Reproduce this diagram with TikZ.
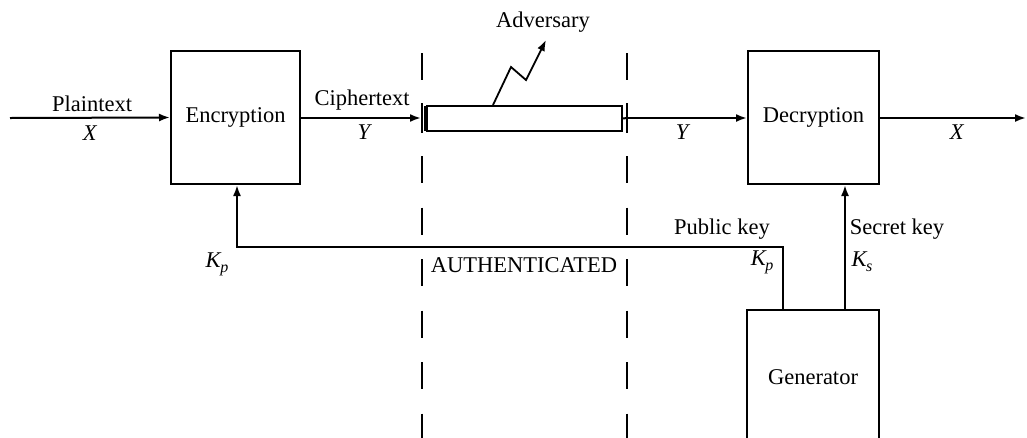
\documentclass[tikz,border=0pt]{standalone}
\usepackage{fontspec}
\setmainfont{Liberation Serif}
\usetikzlibrary{arrows.meta}
\newcommand{\Ksub}[1]{\textit{K\kern-0.5pt\raisebox{-5pt}{\fontsize{16}{16}\selectfont #1}}}
\begin{document}
\begin{tikzpicture}[x=1pt,y=-1pt,
  every node/.style={font=\fontsize{22.5}{25}\selectfont, inner sep=0pt},
  blk/.style={draw, line width=2pt, rectangle},
  wire/.style={line width=2pt},
  arr/.style={line width=2pt, -{Latex[length=11pt,width=8pt]}},
  dashline/.style={line width=2.2pt, dash pattern=on 27pt off 24.5pt},
  lbl/.style={anchor=center}]
\useasboundingbox (0,0) rectangle (1027,437);
\clip (0,0) rectangle (1027,437);
% dashed boundary lines
\draw[dashline] (421.7,53) -- (421.7,445);
\draw[dashline] (626.7,53) -- (626.7,445);
% blocks
\node[blk, minimum width=129pt, minimum height=133pt] (enc) at (235.5,117.5) {Encryption};
\node[blk, minimum width=131pt, minimum height=133pt] (dec) at (813.5,117.5) {Decryption};
\node[blk, minimum width=132pt, minimum height=134pt] (gen) at (813,377) {Generator};
\node[draw, line width=2pt, minimum width=195pt, minimum height=25pt] (chan) at (524.5,118.5) {};
% coordinates
\coordinate (in) at (10,118);
\coordinate (chanL) at (421,118);
\coordinate (chanR) at (627,118);
\coordinate (out) at (1026,118);
\coordinate (pkx) at (783,0);
\coordinate (skx) at (845,0);
\coordinate (kcorner) at (237,247);
\coordinate (z1) at (493,0);
\coordinate (z2) at (511,67);
\coordinate (z3) at (526,80);
\coordinate (ztip) at (546,40);
% channel end bars
\draw[wire] (421.7,103) -- (421.7,133);
\draw[wire] (424.5,106) -- (424.5,131);
\draw[wire] (626.7,103) -- (626.7,133);
% connectors
\draw[arr] (in) -- (enc.west);
\draw[arr] (enc.east |- chanL) -- (chanL);
\draw[wire] (chan.east) -- (chanR);
\draw[arr] (chanR) -- (dec.west |- chanR);
\draw[arr] (dec.east |- out) -- (out);
\draw[arr] (gen.north -| pkx) |- (kcorner) -- (enc.south -| kcorner);
\draw[arr] (gen.north -| skx) -- (dec.south -| skx);
\draw[line width=1.8pt, -{Latex[length=11pt,width=8pt]}] (chan.north -| z1) -- (z2) -- (z3) -- (ztip);
% labels
\node[lbl] (adv) at (543,22) {Adversary};
\node[lbl] (pt) at (92,104) {Plaintext};
\node[lbl] (x1) at (90,133) {\textit{X}};
\node[lbl] (ct) at (362,100) {Ciphertext};
\node[lbl] (y1) at (365,132) {\textit{Y}};
\node[lbl] (y2) at (683,132) {\textit{Y}};
\node[lbl] (x2) at (957,132) {\textit{X}};
\node[lbl] (pub) at (722,229) {Public key};
\node[lbl] (kp2) at (762,262) {\Ksub{p}};
\node[lbl] (sec) at (897,229) {Secret key};
\node[lbl] (ks) at (862,262) {\Ksub{s}};
\node[lbl] (kp1) at (217,264) {\Ksub{p}};
\node[lbl] (auth) at (524,265) {AUTHENTICATED};
\end{tikzpicture}
\end{document}
